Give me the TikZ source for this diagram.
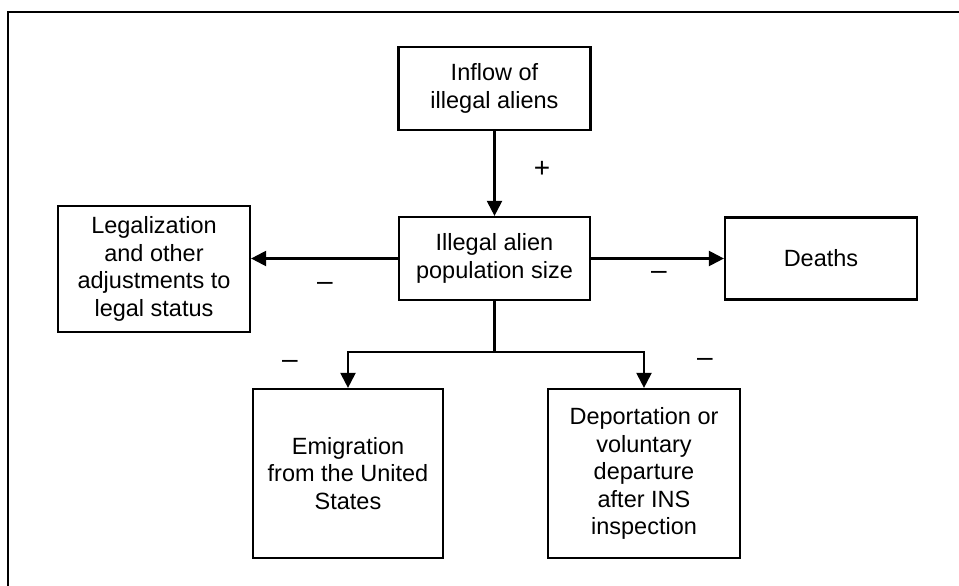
\documentclass[tikz,border=0pt]{standalone}
\usepackage{fontspec}
\setmainfont{Liberation Sans}
\usetikzlibrary{arrows.meta}
\begin{document}
\begin{tikzpicture}[x=1pt,y=-1pt,
  box/.style={draw,line width=2.2pt,align=center,inner sep=0pt,
    font=\fontsize{23.5}{27.5}\selectfont},
  conn/.style={line width=2.2pt},
  arr/.style={conn,-{Triangle[length=15pt,width=15pt]}},
  sign/.style={inner sep=0pt,font=\fontsize{28}{30}\selectfont}]
\useasboundingbox (0,0) rectangle (959,586);
\draw[line width=2.2pt] (8,586) -- (8,12) -- (959,12);
\node[box,minimum width=192pt,minimum height=83pt] (inflow) at (494.5,88.5) {Inflow of\\illegal aliens};
\node[box,minimum width=191pt,minimum height=83pt] (pop) at (494.5,258.5) {Illegal alien\\population size};
\node[box,minimum width=192pt,minimum height=126pt] (legal) at (154,269) {Legalization\\and other\\adjustments to\\legal status};
\node[box,minimum width=192pt,minimum height=82pt] (deaths) at (821,258.5) {Deaths};
\node[box,minimum width=190pt,minimum height=169pt] (emig) at (348,473.5) {Emigration\\from the United\\States};
\node[box,minimum width=192pt,minimum height=169pt] (deport) at (644,473.5) {Deportation or\\voluntary\\departure\\after INS\\inspection};
\coordinate (split) at (494.5,352);
\draw[arr] (inflow.south) -- (pop.north);
\draw[arr] (pop.west) -- (pop.west -| legal.east);
\draw[arr] (pop.east) -- (pop.east -| deaths.west);
\draw[conn] (pop.south) -- (split);
\draw[arr] (split) -| (emig.north);
\draw[arr] (split) -| (deport.north);
\node[sign] (p1) at (542,169) {+};
\node[sign] (m1) at (325,286) {–};
\node[sign] (m2) at (659,275) {–};
\node[sign] (m3) at (290,364) {–};
\node[sign] (m4) at (705,362) {–};
\end{tikzpicture}
\end{document}
